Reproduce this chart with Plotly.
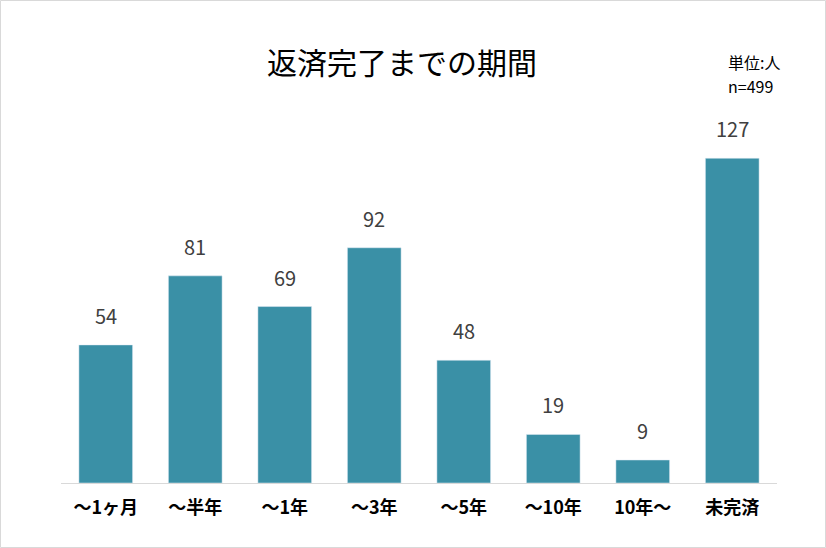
import plotly.graph_objects as go

categories = ["～1ヶ月", "～半年", "～1年", "～3年", "～5年", "～10年", "10年～", "未完済"]
values = [54, 81, 69, 92, 48, 19, 9, 127]
title_text = "返済完了までの期間"
unit_lines = ["単位:人", "n=499"]

FONT = "Noto Sans CJK JP"
BAR = "#3a90a6"

fig = go.Figure(go.Bar(x=categories, y=values, marker_color=BAR, width=0.6))

for c, v in zip(categories, values):
    fig.add_annotation(x=c, y=v, text=str(v), showarrow=False, yanchor="bottom", yshift=13,
                       font=dict(family=FONT, size=20, color="#404040"))

W, H = 826, 548
l, r, t, b = 61, 49, 125, 65
pw, ph = W - l - r, H - t - b

fig.add_shape(type="rect", xref="paper", yref="paper",
              x0=(0.5 - l) / pw, x1=(W - 0.5 - l) / pw,
              y0=-(b - 0.5) / ph, y1=(ph + t - 0.5) / ph,
              line=dict(color="#d9d9d9", width=1), layer="below")

fig.add_annotation(text=title_text, xref="paper", yref="paper", x=(402 - l) / pw, y=(H - b - 61) / ph,
                   showarrow=False, xanchor="center", yanchor="middle",
                   font=dict(family=FONT, size=30, color="#000000"))
for i, line in enumerate(unit_lines):
    fig.add_annotation(text=line, xref="paper", yref="paper", x=(727 - l) / pw,
                       y=(H - b - (62 + 24 * i)) / ph,
                       showarrow=False, xanchor="left", yanchor="middle", align="left",
                       borderpad=0,
                       font=dict(family=FONT, size=16, color="#000000"))

fig.update_layout(
    width=W, height=H, margin=dict(l=l, r=r, t=t, b=b),
    paper_bgcolor="white", plot_bgcolor="white", showlegend=False,
    bargap=0.4,
    xaxis=dict(showline=True, linecolor="#d9d9d9", linewidth=1, showgrid=False, ticks="",
               tickfont=dict(family=FONT, size=18, color="#000000", weight="bold"), ticklabelstandoff=8),
    yaxis=dict(range=[0, 140], visible=False, showgrid=False),
)

fig.write_html("out.html", config={"displayModeBar": False},
               post_script="document.body.style.margin='0';document.body.style.overflow='hidden';")
